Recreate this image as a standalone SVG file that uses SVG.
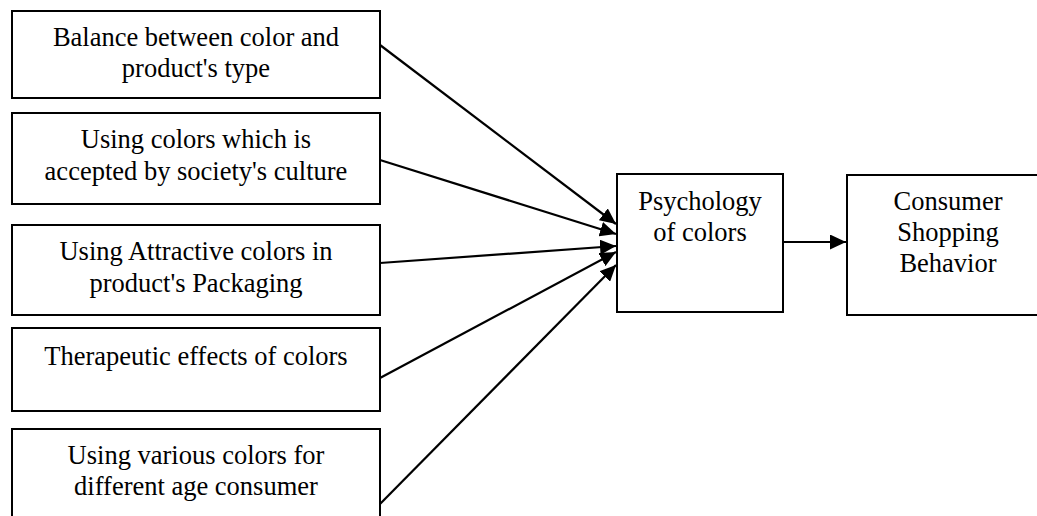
<svg xmlns="http://www.w3.org/2000/svg" width="1037" height="516" viewBox="0 0 1037 516">
<style>
.box{fill:#fff;stroke:#000;stroke-width:2}
.t{font-family:"Liberation Serif","Times New Roman",serif;font-size:26.5px;fill:#000;text-anchor:middle}
.c{stroke:#000;stroke-width:2.2;fill:none;marker-end:url(#ah)}
</style>
<defs>
<marker id="ah" markerUnits="userSpaceOnUse" markerWidth="17" markerHeight="15" refX="16" refY="7.5" orient="auto" viewBox="0 0 17 15">
<path d="M0,0 L16,7.5 L0,15 z" fill="#000"/>
</marker>
</defs>
<rect width="1037" height="516" fill="#fff"/>
<g id="n1"><rect class="box" x="12" y="11" width="368" height="87"/><text class="t" x="196" y="46">Balance between color and</text><text class="t" x="196" y="77">product's type</text></g>
<g id="n2"><rect class="box" x="12" y="113" width="368" height="91"/><text class="t" x="196" y="148">Using colors which is</text><text class="t" x="196" y="180">accepted by society's culture</text></g>
<g id="n3"><rect class="box" x="12" y="225" width="368" height="90"/><text class="t" x="196" y="260">Using Attractive colors in</text><text class="t" x="196" y="292">product's Packaging</text></g>
<g id="n4"><rect class="box" x="12" y="328" width="368" height="83"/><text class="t" x="196" y="365">Therapeutic effects of colors</text></g>
<g id="n5"><rect class="box" x="12" y="429" width="368" height="100"/><text class="t" x="196" y="464">Using various colors for</text><text class="t" x="196" y="495">different age consumer</text></g>
<g id="n6"><rect class="box" x="617" y="174" width="166" height="138"/><text class="t" x="700" y="210">Psychology</text><text class="t" x="700" y="241">of colors</text></g>
<g id="n7"><rect class="box" x="847" y="175" width="202" height="140"/><text class="t" x="948" y="210">Consumer</text><text class="t" x="948" y="241">Shopping</text><text class="t" x="948" y="272">Behavior</text></g>
<g id="connectors">
<line class="c" x1="380" y1="45" x2="616" y2="224"/>
<line class="c" x1="380" y1="160" x2="616" y2="234"/>
<line class="c" x1="380" y1="263" x2="616" y2="246"/>
<line class="c" x1="380" y1="378" x2="616" y2="252"/>
<line class="c" x1="380" y1="504" x2="616" y2="265"/>
<line class="c" x1="783" y1="242" x2="846" y2="242"/>
</g>
</svg>
